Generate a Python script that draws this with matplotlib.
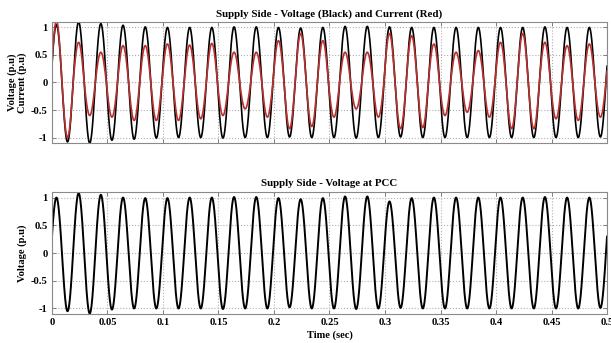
import numpy as np
import matplotlib.pyplot as plt

# 50 Hz supply, 0.5 s window -> 25 cycles
freq = 50.0
phase = 0.3
t_end = 0.5

# per-cycle positive / negative peaks (p.u)
supply_v_pos = [1.05, 1.10, 1.07, 1.04, 1.01, 1.00, 1.00, 1.00, 1.01, 1.01, 1.00, 0.99, 1.00,
                1.02, 1.02, 1.01, 1.00, 1.00, 1.00, 1.00, 1.00, 1.00, 1.01, 1.00, 1.00]
supply_v_neg = [-1.08, -1.10, -1.05, -1.03, -1.01, -1.00, -1.00, -1.01, -1.00, -1.00, -0.99, -1.00, -1.00,
                -1.01, -1.00, -0.99, -1.00, -1.00, -1.00, -1.00, -1.00, -1.00, -1.00, -1.00, -0.99]
supply_i_pos = [1.12, 0.73, 0.55, 0.67, 0.67, 0.70, 0.68, 0.71, 0.55, 0.55, 0.76, 0.89, 0.76,
                0.55, 0.55, 0.89, 0.85, 0.70, 0.55, 0.58, 0.73, 0.89, 0.73, 0.67, 0.70]
supply_i_neg = [-1.00, -0.60, -0.63, -0.69, -0.69, -0.69, -0.66, -0.60, -0.48, -0.63, -0.84, -0.80, -0.63,
                -0.48, -0.63, -0.84, -0.82, -0.60, -0.54, -0.63, -0.84, -0.84, -0.66, -0.69, -0.63]
pcc_v_pos = [1.00, 1.08, 1.05, 1.00, 0.99, 0.99, 1.00, 1.00, 1.01, 1.01, 0.99, 0.97, 0.99,
             1.02, 1.02, 0.93, 0.99, 1.00, 1.00, 1.00, 1.00, 1.00, 1.01, 1.00, 1.00]
pcc_v_neg = [-1.05, -1.09, -1.02, -1.00, -1.00, -1.00, -1.00, -1.01, -1.00, -1.00, -0.98, -1.00, -1.00,
             -1.01, -1.00, -0.99, -1.00, -1.00, -1.00, -1.00, -1.00, -1.00, -1.00, -1.00, -0.99]

x_ticks = [0, 0.05, 0.1, 0.15, 0.2, 0.25, 0.3, 0.35, 0.4, 0.45, 0.5]
x_tick_labels = ['0', '0.05', '0.1', '0.15', '0.2', '0.25', '0.3', '0.35', '0.4', '0.45', '0.5']
y_ticks = [-1, -0.5, 0, 0.5, 1]
y_tick_labels = ['-1', '-0.5', '0', '0.5', '1']

t = np.linspace(0, t_end, 6001)


def build_wave(pos_peaks, neg_peaks):
    theta = 2 * np.pi * freq * t + phase
    k = np.minimum((theta // (2 * np.pi)).astype(int), len(pos_peaks) - 1)
    s = np.sin(theta)
    amp = np.where(s >= 0, np.asarray(pos_peaks)[k], -np.asarray(neg_peaks)[k])
    return amp * s


plt.rcParams['font.family'] = ['Liberation Serif', 'DejaVu Serif']
plt.rcParams['font.weight'] = 'bold'
plt.rcParams['font.size'] = 7.6

fig = plt.figure(figsize=(6.11, 3.43), dpi=100)
ax1 = fig.add_axes([0.085, 0.583, 0.9085, 0.353])
ax2 = fig.add_axes([0.085, 0.0845, 0.9085, 0.3557])


def style_axes(ax):
    ax.set_xlim(0, t_end)
    ax.set_ylim(-1.1, 1.1)
    ax.set_xticks(x_ticks)
    ax.set_yticks(y_ticks)
    ax.set_yticklabels(y_tick_labels, fontweight='bold')
    ax.grid(True, color='#b0b0b0', linestyle=':', linewidth=0.8)
    ax.tick_params(direction='in', length=3, width=0.6, color='#707070',
                   top=True, right=True, pad=3)
    for sp in ax.spines.values():
        sp.set_color('#8a8a8a')
        sp.set_linewidth(0.8)


ax1.plot(t, build_wave(supply_v_pos, supply_v_neg), color='black', lw=1.2)
ax1.plot(t, build_wave(supply_i_pos, supply_i_neg), color='#b8302f', lw=1.2)
style_axes(ax1)
ax1.set_xticklabels([])
ax1.set_title('Supply Side - Voltage (Black) and Current (Red)', fontsize=7.8, fontweight='bold', pad=4)
ax1.set_ylabel('Voltage (p.u)\nCurrent (p.u)', fontweight='bold', labelpad=3, linespacing=1.05)

ax2.plot(t, build_wave(pcc_v_pos, pcc_v_neg), color='black', lw=1.4)
style_axes(ax2)
ax2.set_xticklabels(x_tick_labels, fontweight='bold')
ax2.set_title('Supply Side - Voltage at PCC', fontsize=7.8, fontweight='bold', pad=4)
ax2.set_ylabel('Voltage (p.u)', fontweight='bold', labelpad=3)
ax2.set_xlabel('Time (sec)', fontweight='bold', labelpad=2)

fig.savefig('out.png', dpi=100)
